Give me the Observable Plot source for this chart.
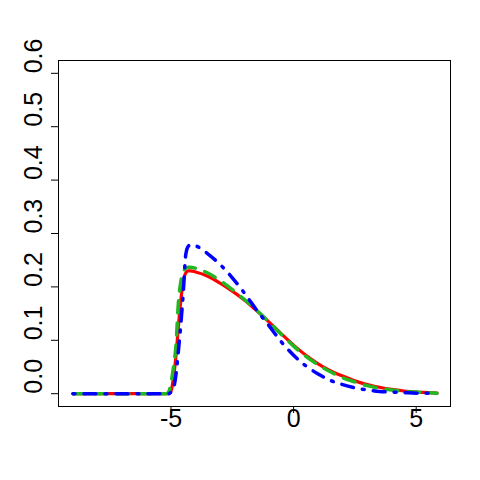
<!DOCTYPE html>
<html>
<head>
<meta charset="utf-8">
<script src="https://cdn.jsdelivr.net/npm/d3@7"></script>
<script src="https://cdn.jsdelivr.net/npm/@observablehq/plot@0.6"></script>
<style>
  html, body { margin: 0; padding: 0; background: white; }
</style>
</head>
<body>
<div id="chart"></div>
<script>
const xs    = [-9, -8, -7, -6, -5.2, -5.1, -5.0, -4.9, -4.8, -4.7, -4.6, -4.5, -4.4, -4.3, -4.2, -4.0, -3.5, -3.0, -2.5, -2.0, -1.5, -1.0, -0.5, 0, 0.5, 1, 1.5, 2, 2.5, 3, 3.5, 4, 4.5, 5, 5.5, 5.85];
const red   = [0, 0, 0, 0, 0, 0, 0.005, 0.03, 0.07, 0.125, 0.175, 0.21, 0.226, 0.23, 0.23, 0.228, 0.220, 0.207, 0.192, 0.175, 0.155, 0.134, 0.112, 0.091, 0.072, 0.056, 0.043, 0.033, 0.024, 0.017, 0.012, 0.008, 0.005, 0.003, 0.002, 0.001];
const green = [0, 0, 0, 0, 0, 0.003, 0.02, 0.05, 0.09, 0.17, 0.21, 0.228, 0.235, 0.237, 0.237, 0.235, 0.226, 0.212, 0.195, 0.176, 0.156, 0.134, 0.111, 0.089, 0.070, 0.054, 0.041, 0.030, 0.022, 0.015, 0.010, 0.007, 0.004, 0.003, 0.002, 0.001];
const blue  = [0, 0, 0, 0, 0, 0, 0.003, 0.01, 0.035, 0.08, 0.13, 0.19, 0.26, 0.276, 0.279, 0.277, 0.262, 0.242, 0.217, 0.188, 0.156, 0.127, 0.097, 0.072, 0.052, 0.037, 0.025, 0.017, 0.011, 0.007, 0.004, 0.003, 0.002, 0.001, 0.001, 0.0];
const xTicks = [-5, 0, 5];
const yTicks = [0, 0.1, 0.2, 0.3, 0.4, 0.5, 0.6];

const toRows = (ys) => xs.map((x, i) => ({x, y: ys[i]}));
const font = "'Liberation Sans', Arial, Helvetica, sans-serif";

const chart = Plot.plot({
  width: 480,
  height: 480,
  marginLeft: 58,
  marginRight: 30,
  marginTop: 60,
  marginBottom: 74,
  style: {fontFamily: font, background: "white", color: "black"},
  x: {domain: [-9.59, 6.40]},
  y: {domain: [-0.024, 0.624]},
  marks: [
    Plot.frame({stroke: "black", strokeWidth: 1}),
    Plot.axisX({ticks: xTicks, tickSize: 7, tickFormat: () => "", label: null}),
    Plot.axisY({ticks: yTicks, tickSize: 7, tickFormat: () => "", label: null}),
    Plot.text(xTicks, {x: d => d, text: d => (d < 0 ? "-" + Math.abs(d) : String(d)), frameAnchor: "bottom", dy: 20, fontSize: 25, fill: "black"}),
    Plot.text(yTicks, {y: d => d, text: d => d.toFixed(1), frameAnchor: "left", dx: -25, rotate: -90, fontSize: 25, fill: "black"}),
    Plot.line(toRows(red), {x: "x", y: "y", stroke: "#ff0000", strokeWidth: 3.2, curve: "monotone-x"}),
    Plot.line(toRows(green), {x: "x", y: "y", stroke: "#22b822", strokeWidth: 3.5, strokeDasharray: "12,10", strokeLinecap: "round", curve: "monotone-x"}),
    Plot.line(toRows(blue), {x: "x", y: "y", stroke: "#0000ff", strokeWidth: 3.5, strokeDasharray: "2,9,12,9", strokeLinecap: "round", curve: "monotone-x"})
  ]
});
document.getElementById("chart").appendChild(chart);
</script>
</body>
</html>
